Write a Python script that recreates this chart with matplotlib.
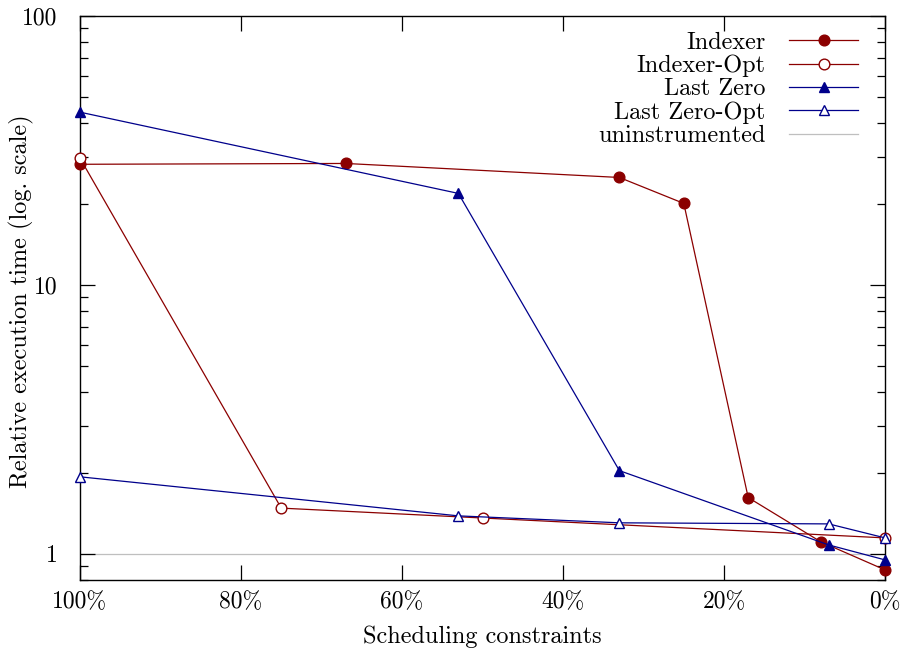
import matplotlib
matplotlib.use("Agg")
import matplotlib.pyplot as plt
from matplotlib.ticker import LogLocator, NullFormatter, FixedLocator

plt.rcParams['font.family'] = 'serif'
plt.rcParams['font.serif'] = ['cmr10']
plt.rcParams['mathtext.fontset'] = 'cm'
plt.rcParams['axes.formatter.use_mathtext'] = True

# Data (x = scheduling constraints in %)
indexer_x = [100, 67, 33, 25, 17, 8, 0]
indexer_y = [28.1, 28.3, 25.1, 20.1, 1.62, 1.11, 0.872]

indexer_opt_x = [100, 75, 50, 0]
indexer_opt_y = [29.6, 1.48, 1.36, 1.147]

lastzero_x = [100, 53, 33, 7, 0]
lastzero_y = [43.9, 21.9, 2.04, 1.08, 0.95]

lastzero_opt_x = [100, 53, 33, 7, 0]
lastzero_opt_y = [1.935, 1.385, 1.305, 1.293, 1.147]

baseline = 1.0

xticks = [100, 80, 60, 40, 20, 0]
xticklabels = ['100%', '80%', '60%', '40%', '20%', '0%']
yticks = [1, 10, 100]
yticklabels = ['1', '10', '100']

red = '#8b0000'
blue = '#00008b'

fig = plt.figure(figsize=(9.01, 6.51), dpi=100)
ax = fig.add_axes([0.0888, 0.1091, 0.8935, 0.8663])

ax.axhline(baseline, color='#bfbfbf', lw=0.9, label='uninstrumented', zorder=1)
ax.plot(indexer_x, indexer_y, color=red, lw=0.9, marker='o', ms=7.7,
        mfc=red, mec=red, label='Indexer', zorder=3, clip_on=False)
ax.plot(indexer_opt_x, indexer_opt_y, color=red, lw=0.9, marker='o', ms=7.7,
        mfc='white', mec=red, mew=1.0, label='Indexer-Opt', zorder=3, clip_on=False)
ax.plot(lastzero_x, lastzero_y, color=blue, lw=0.9, marker='^', ms=7,
        mfc=blue, mec=blue, label='Last Zero', zorder=4, clip_on=False)
ax.plot(lastzero_opt_x, lastzero_opt_y, color=blue, lw=0.9, marker='^', ms=7,
        mfc='white', mec=blue, mew=1.0, label='Last Zero-Opt', zorder=4, clip_on=False)

ax.set_yscale('log')
ax.set_xlim(100, 0)
ax.set_ylim(0.8, 100)
ax.set_xticks(xticks)
ax.set_xticklabels(xticklabels)
ax.yaxis.set_major_locator(FixedLocator(yticks))
ax.set_yticklabels(yticklabels)
ax.yaxis.set_minor_locator(LogLocator(base=10, subs=range(2, 10), numticks=20))
ax.yaxis.set_minor_formatter(NullFormatter())
ax.tick_params(which='both', direction='in', top=True, right=True, labelsize=17, width=0.9)
ax.tick_params(which='major', length=10.5)
ax.tick_params(axis='x', which='major', pad=8)
ax.tick_params(axis='y', which='major', pad=16)
ax.tick_params(which='minor', length=5.5)
for s in ax.spines.values():
    s.set_linewidth(1.0)

ax.set_xlabel('Scheduling constraints', fontsize=17.5)
ax.set_ylabel('Relative execution time (log. scale)', fontsize=17.5)
ax.xaxis.set_label_coords(0.5, -0.08)
ax.yaxis.set_label_coords(-0.057, 0.495)

handles, labels = ax.get_legend_handles_labels()
order = [1, 2, 3, 4, 0]
ax.legend([handles[i] for i in order], [labels[i] for i in order],
          loc='upper right', bbox_to_anchor=(1.0, 1.0195),
          frameon=False, markerfirst=False, fontsize=17.5,
          handlelength=2.86, labelspacing=0.04, borderaxespad=0.7, borderpad=0.4,
          handletextpad=0.97)

fig.savefig('out.png', dpi=100)
